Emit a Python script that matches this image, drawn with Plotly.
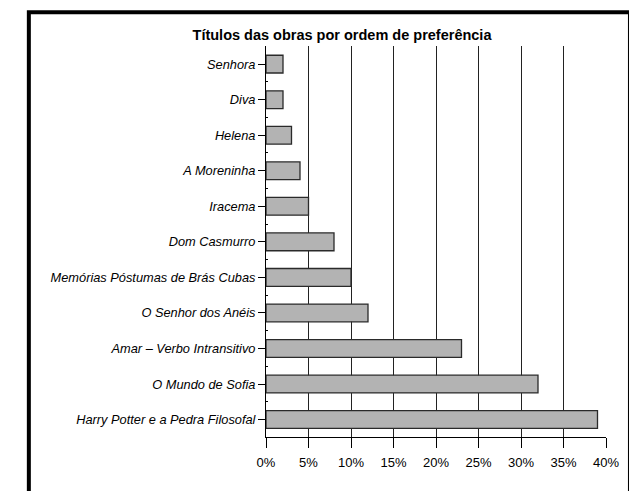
import plotly.graph_objects as go

categories = [
    "Harry Potter e a Pedra Filosofal",
    "O Mundo de Sofia",
    "Amar – Verbo Intransitivo",
    "O Senhor dos Anéis",
    "Memórias Póstumas de Brás Cubas",
    "Dom Casmurro",
    "Iracema",
    "A Moreninha",
    "Helena",
    "Diva",
    "Senhora",
]
values = [39, 32, 23, 12, 10, 8, 5, 4, 3, 2, 2]
x_tick_vals = [0, 5, 10, 15, 20, 25, 30, 35, 40]
x_tick_text = ["0%", "5%", "10%", "15%", "20%", "25%", "30%", "35%", "40%"]
title_text = "<b>Títulos das obras por ordem de preferência</b>"

positions = list(range(len(categories)))

# page body has an 8px margin: work in window pixels, shift by OFF
OFF = 8
W, H = 637 - OFF, 491 - OFF
L, T = 265.5 - OFF, 45.5 - OFF
R = W - (606 - OFF)
B = H - (437 - OFF)
pw = W - L - R
ph = H - T - B

def px_x(px):
    return (px - OFF - L) / pw

def px_y(py):
    return (H - B - (py - OFF)) / ph

fig = go.Figure()
fig.add_trace(go.Bar(
    x=values,
    y=positions,
    orientation="h",
    width=0.5,
    marker=dict(color="#b3b3b3", line=dict(color="#2a2a2a", width=1.3)),
    hoverinfo="x+text",
    text=categories,
    textposition="none",
))

font_family = "Arial, Liberation Sans, Helvetica, sans-serif"

fig.update_layout(
    width=W,
    height=H,
    margin=dict(l=L, r=R, t=T, b=B, pad=0),
    paper_bgcolor="white",
    plot_bgcolor="white",
    showlegend=False,
    font=dict(family=font_family, color="black"),
    title=dict(
        text=title_text,
        x=(342 - OFF) / W,
        xref="container",
        xanchor="center",
        y=1 - (34.5 - OFF) / H,
        yref="container",
        yanchor="middle",
        font=dict(size=14.5, family=font_family, color="black"),
    ),
    bargap=0.5,
)

fig.update_xaxes(
    range=[0, 40],
    tickvals=x_tick_vals,
    ticktext=x_tick_text,
    showgrid=True,
    gridcolor="#222222",
    gridwidth=1,
    zeroline=False,
    showline=True,
    linecolor="black",
    linewidth=1,
    ticks="outside",
    ticklen=10,
    tickcolor="black",
    tickwidth=1,
    ticklabelstandoff=3,
    tickfont=dict(size=13, family=font_family, color="black"),
    fixedrange=True,
)

fig.update_yaxes(
    range=[-0.49, 10.51],
    tickvals=positions,
    ticktext=["<i>" + c + "</i>" for c in categories],
    showgrid=False,
    zeroline=False,
    showline=True,
    linecolor="black",
    linewidth=1,
    ticks="outside",
    ticklen=7,
    tickcolor="black",
    tickwidth=1,
    tickfont=dict(size=12.8, family=font_family, color="black"),
    minor=dict(
        tickvals=[p + 0.5 for p in positions[:-1]],
        ticks="inside",
        ticklen=2,
        tickcolor="black",
        tickwidth=1,
        showgrid=False,
    ),
    fixedrange=True,
)

# outer frame
fig.add_shape(
    type="rect",
    xref="paper",
    yref="paper",
    x0=px_x(28),
    x1=px_x(630),
    y0=px_y(520),
    y1=px_y(11.7),
    line=dict(color="black", width=4),
    fillcolor="rgba(0,0,0,0)",
    layer="above",
)

fig.write_html("out.html")
